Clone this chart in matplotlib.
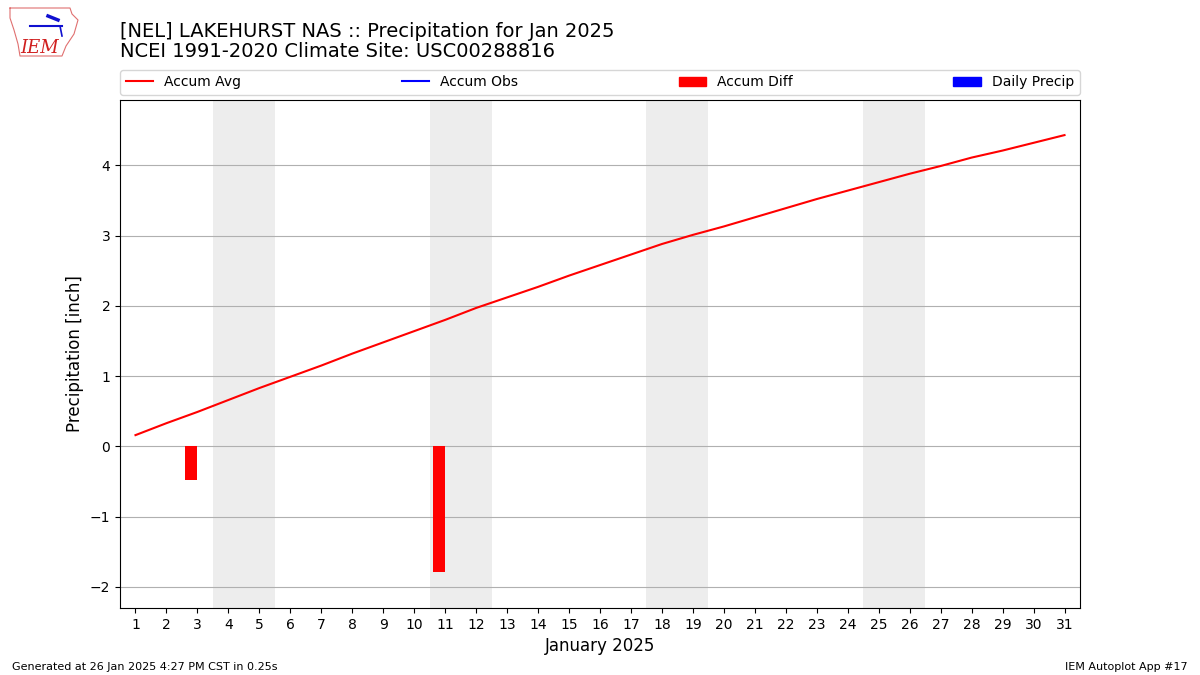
import matplotlib
matplotlib.use("Agg")
import matplotlib.pyplot as plt
from matplotlib.lines import Line2D
from matplotlib.patches import Patch

# daily climatology accumulation (inch), Jan 1..31
days = list(range(1, 32))
accum_avg = [0.16, 0.33, 0.49, 0.66, 0.83, 0.99, 1.15, 1.32, 1.48, 1.64,
             1.80, 1.97, 2.12, 2.27, 2.43, 2.58, 2.73, 2.88, 3.01, 3.13,
             3.26, 3.39, 3.52, 3.64, 3.76, 3.88, 3.99, 4.11, 4.21, 4.32, 4.43]
diff_days = [3, 11]
accum_diff = [-0.48, -1.79]
obs_days = []
accum_obs = []
daily_precip = []
weekends = [4, 11, 18, 25]  # first day of each Sat/Sun pair

fig = plt.figure(figsize=(12, 6.75), dpi=100)
ax = fig.add_axes([0.1, 0.0993, 0.8, 0.7526])

for d in weekends:
    ax.axvspan(d - 0.5, d + 1.5, color="#ededed", zorder=0, lw=0)

ax.plot(days, accum_avg, color="r", zorder=3)
ax.plot(obs_days, accum_obs, color="b", zorder=3)
ax.bar(diff_days, accum_diff, width=-0.4, align="edge", color="r", zorder=2)
ax.bar(obs_days, daily_precip, width=0.4, align="edge", color="b", zorder=2)

ax.set_xlim(0.5, 31.5)
ax.set_ylim(-2.3, 4.93)
ax.set_xticks(days)
ax.set_yticks(range(-2, 5))
ax.grid(axis="y", color="#b0b0b0", zorder=1)
ax.set_axisbelow(True)
ax.set_ylabel("Precipitation [inch]", fontsize=12)
ax.set_xlabel("January 2025", fontsize=12)

handles = [Line2D([], [], color="r"), Line2D([], [], color="b"),
           Patch(color="r"), Patch(color="b")]
labels = ["Accum Avg", "Accum Obs", "Accum Diff", "Daily Precip"]
ax.legend(handles, labels, loc="lower left", bbox_to_anchor=(0, 1.01, 1, 0.05),
          mode="expand", ncol=4, borderaxespad=0)

fig.text(0.1, 0.968, "[NEL] LAKEHURST NAS :: Precipitation for Jan 2025\n"
         "NCEI 1991-2020 Climate Site: USC00288816", fontsize=14, va="top",
         linespacing=1.12)
fig.text(0.01, 0.008, "Generated at 26 Jan 2025 4:27 PM CST in 0.25s", fontsize=8)
fig.text(0.99, 0.008, "IEM Autoplot App #17", fontsize=8, ha="right")

# rough stand-in for the IEM logo
ox = [10, 70, 72, 78, 74, 70, 66, 62, 20, 18, 14, 10, 10]
oy = [8, 8, 14, 20, 34, 40, 46, 56, 56, 44, 30, 18, 8]
fig.add_artist(Line2D([x / 1200 for x in ox], [1 - y / 675 for y in oy],
                      color="#e07070", lw=0.8, transform=fig.transFigure))
fig.add_artist(Line2D([30 / 1200, 62 / 1200], [1 - 26 / 675, 1 - 26 / 675],
                      color="#1010d0", lw=1.5, transform=fig.transFigure))
fig.add_artist(Line2D([48 / 1200, 58 / 1200], [1 - 16 / 675, 1 - 20 / 675],
                      color="#1010d0", lw=2.5, transform=fig.transFigure))
fig.add_artist(Line2D([60 / 1200, 62 / 1200], [1 - 26 / 675, 1 - 36 / 675],
                      color="#1010d0", lw=1.2, transform=fig.transFigure))
fig.text(20 / 1200, 1 - 53 / 675, "IEM", color="#d02020", fontsize=13,
         family="DejaVu Serif", style="italic")

fig.savefig("out.png", dpi=100)
